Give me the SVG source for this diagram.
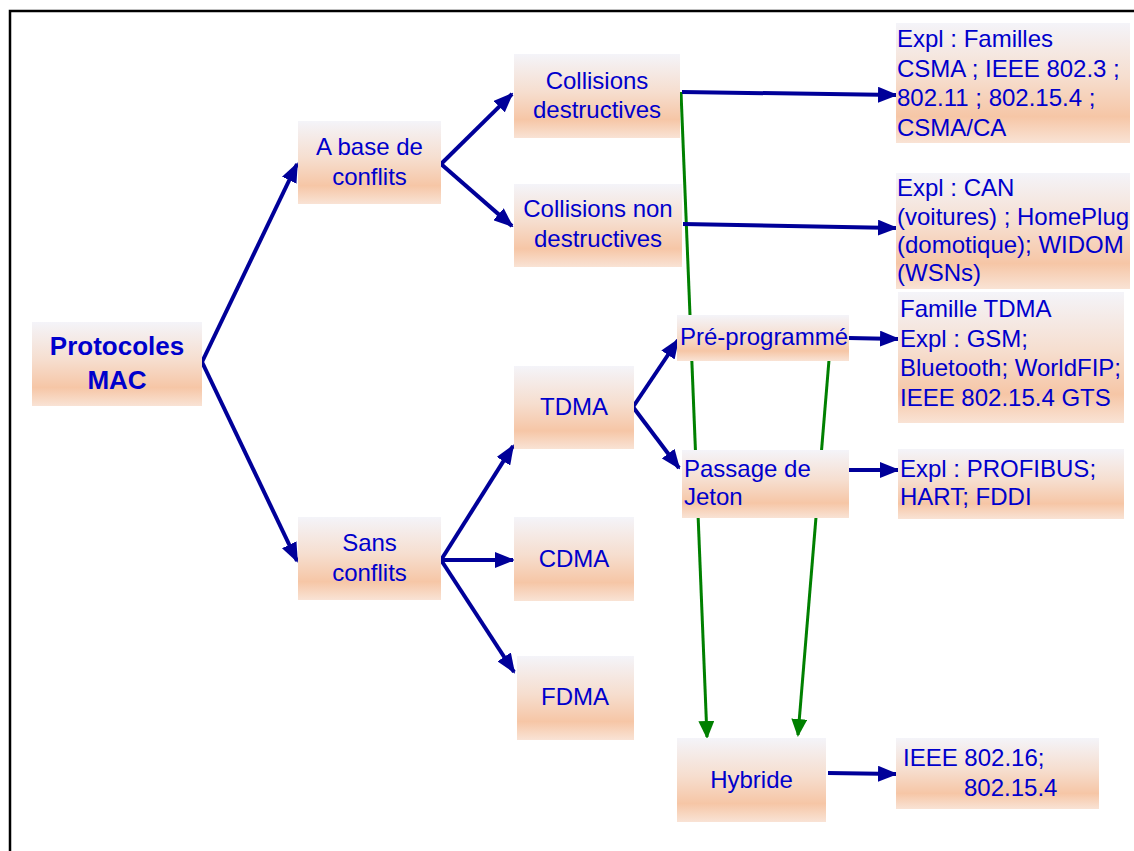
<svg xmlns="http://www.w3.org/2000/svg" width="1134" height="851" viewBox="0 0 1134 851">
<style>
.box{fill:url(#g)}
.t{font-family:"Liberation Sans",Arial,sans-serif;font-size:24px;fill:#0000CC}
.c{text-anchor:middle}
.b{font-weight:bold;font-size:26px}
.nv{stroke:#000099;stroke-width:4;fill:none;marker-end:url(#an)}
.gr{stroke:#008000;stroke-width:3;fill:none;marker-end:url(#ag)}
</style>
<defs>
<linearGradient id="g" x1="0" y1="0" x2="0" y2="1">
<stop offset="0" stop-color="#f4f4f9"/>
<stop offset="0.45" stop-color="#f6decf"/>
<stop offset="0.78" stop-color="#f6c6a6"/>
<stop offset="1" stop-color="#f9e3d5"/>
</linearGradient>
<marker id="an" markerUnits="userSpaceOnUse" markerWidth="20" markerHeight="16" viewBox="0 0 20 16" refX="18" refY="8" orient="auto">
<path d="M0,0 L20,8 L0,16 z" fill="#000099"/>
</marker>
<marker id="ag" markerUnits="userSpaceOnUse" markerWidth="18" markerHeight="16" viewBox="0 0 18 16" refX="16" refY="8" orient="auto">
<path d="M0,0 L18,8 L0,16 z" fill="#008000"/>
</marker>
</defs>
<rect width="1134" height="851" fill="#ffffff"/>
<path d="M10,851 V11 H1134" fill="none" stroke="#000" stroke-width="2.5"/>

<g id="connectors">
<line class="gr" x1="681" y1="92" x2="707" y2="737"/>
<line class="gr" x1="829" y1="360" x2="798" y2="735"/>
<line class="nv" x1="202" y1="362" x2="297" y2="164"/>
<line class="nv" x1="202" y1="362" x2="297" y2="561"/>
<line class="nv" x1="441" y1="164" x2="512" y2="94"/>
<line class="nv" x1="441" y1="164" x2="512" y2="226"/>
<line class="nv" x1="441" y1="560" x2="513" y2="446"/>
<line class="nv" x1="441" y1="560" x2="513" y2="560"/>
<line class="nv" x1="441" y1="560" x2="514" y2="672"/>
<line class="nv" x1="633" y1="407" x2="678" y2="340"/>
<line class="nv" x1="633" y1="407" x2="679" y2="468"/>
<line class="nv" x1="682" y1="92" x2="896" y2="95"/>
<line class="nv" x1="683" y1="224" x2="896" y2="228"/>
<line class="nv" x1="849" y1="338" x2="898" y2="339"/>
<line class="nv" x1="849" y1="470" x2="898" y2="470"/>
<line class="nv" x1="828" y1="773" x2="896" y2="774"/>
</g>

<g id="protocoles-mac">
<rect class="box" x="32" y="322" width="170" height="84"/>
<text class="t c b" x="117" y="355">Protocoles</text>
<text class="t c b" x="117" y="389">MAC</text>
</g>
<g id="a-base-de-conflits">
<rect class="box" x="298" y="121" width="143" height="83"/>
<text class="t c" x="369.5" y="155">A base de</text>
<text class="t c" x="369.5" y="185">conflits</text>
</g>
<g id="sans-conflits">
<rect class="box" x="298" y="517" width="143" height="83"/>
<text class="t c" x="369.5" y="551">Sans</text>
<text class="t c" x="369.5" y="581">conflits</text>
</g>
<g id="collisions-destructives">
<rect class="box" x="514" y="54" width="166" height="84"/>
<text class="t c" x="597" y="89">Collisions</text>
<text class="t c" x="597" y="118">destructives</text>
</g>
<g id="collisions-non-destructives">
<rect class="box" x="514" y="184" width="168" height="83"/>
<text class="t c" x="598" y="217">Collisions non</text>
<text class="t c" x="598" y="247">destructives</text>
</g>
<g id="tdma">
<rect class="box" x="514" y="366" width="120" height="83"/>
<text class="t c" x="574" y="415">TDMA</text>
</g>
<g id="cdma">
<rect class="box" x="514" y="517" width="120" height="84"/>
<text class="t c" x="574" y="567">CDMA</text>
</g>
<g id="fdma">
<rect class="box" x="517" y="656" width="117" height="84"/>
<text class="t c" x="575" y="705">FDMA</text>
</g>
<g id="pre-programme">
<rect class="box" x="677" y="315" width="172" height="46"/>
<text class="t" x="680" y="345">Pré-programmé</text>
</g>
<g id="passage-de-jeton">
<rect class="box" x="682" y="450" width="167" height="68"/>
<text class="t" x="684" y="477">Passage de</text>
<text class="t" x="684" y="505">Jeton</text>
</g>
<g id="hybride">
<rect class="box" x="677" y="738" width="149" height="84"/>
<text class="t c" x="751.5" y="788">Hybride</text>
</g>
<g id="expl-familles">
<rect class="box" x="896" y="23" width="234" height="120"/>
<text class="t" x="897" y="47">Expl : Familles</text>
<text class="t" x="897" y="76.5">CSMA ; IEEE 802.3 ;</text>
<text class="t" x="897" y="106">802.11 ; 802.15.4 ;</text>
<text class="t" x="897" y="135.5">CSMA/CA</text>
</g>
<g id="expl-can">
<rect class="box" x="896" y="173" width="234" height="116"/>
<text class="t" x="897" y="196">Expl : CAN</text>
<text class="t" x="897" y="224.5">(voitures) ; HomePlug</text>
<text class="t" x="897" y="253">(domotique); WIDOM</text>
<text class="t" x="897" y="281">(WSNs)</text>
</g>
<g id="famille-tdma">
<rect class="box" x="898" y="292" width="226" height="131"/>
<text class="t" x="900" y="317">Famille TDMA</text>
<text class="t" x="900" y="346.5">Expl : GSM;</text>
<text class="t" x="900" y="376">Bluetooth; WorldFIP;</text>
<text class="t" x="900" y="405.5">IEEE 802.15.4 GTS</text>
</g>
<g id="expl-profibus">
<rect class="box" x="898" y="449" width="226" height="70"/>
<text class="t" x="900" y="477">Expl : PROFIBUS;</text>
<text class="t" x="900" y="505">HART; FDDI</text>
</g>
<g id="ieee-802-16">
<rect class="box" x="896" y="738" width="203" height="71"/>
<text class="t" x="903" y="766">IEEE 802.16;</text>
<text class="t" x="964" y="796">802.15.4</text>
</g>
</svg>
